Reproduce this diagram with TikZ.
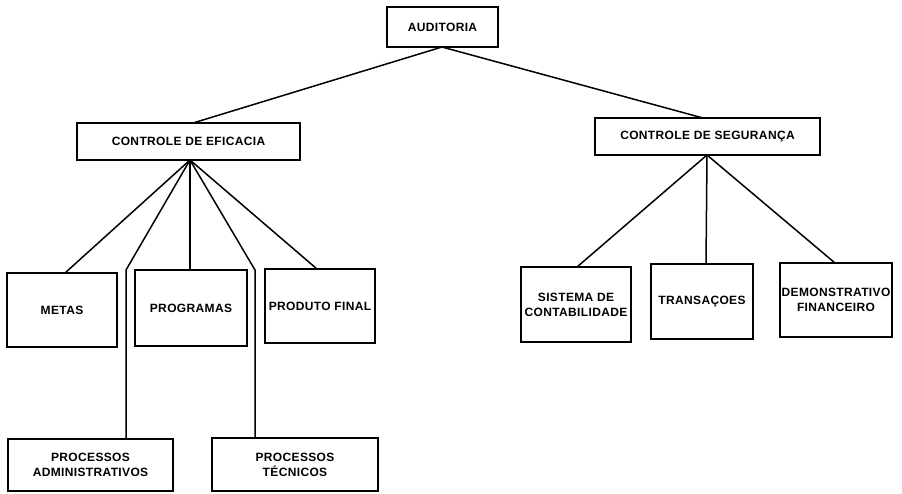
\documentclass[tikz,border=0pt]{standalone}
\usepackage{fontspec}
\setmainfont{Liberation Sans}[LetterSpace=3]
\begin{document}
\begin{tikzpicture}[x=1pt,y=-1pt,
  box/.style={draw, line width=1.5pt, inner sep=0pt, align=center,
    font=\fontsize{12}{15}\selectfont\bfseries},
  link/.style={line width=1.5pt}]
\useasboundingbox (0,0) rectangle (902,493);

% top level
\node[box, minimum width=111pt, minimum height=40pt] (aud) at (442.5,27) {AUDITORIA};

% second level
\node[box, minimum width=223pt, minimum height=37pt] (efi) at (188.5,141.5) {CONTROLE DE EFICACIA};
\node[box, minimum width=225pt, minimum height=37pt] (seg) at (707.5,136.5) {CONTROLE DE SEGURANÇA};

% efficacy branch
\node[box, minimum width=110pt, minimum height=74pt] (metas) at (62,310) {METAS};
\node[box, minimum width=112pt, minimum height=76pt] (prog) at (191,308) {PROGRAMAS};
\node[box, minimum width=110pt, minimum height=74pt] (prod) at (320,306) {PRODUTO FINAL};
\node[box, minimum width=165pt, minimum height=52pt] (padm) at (90.5,465) {PROCESSOS\\ADMINISTRATIVOS};
\node[box, minimum width=166pt, minimum height=53pt] (ptec) at (295,464.5) {PROCESSOS\\TÉCNICOS};

% security branch
\node[box, minimum width=110pt, minimum height=75pt] (sis) at (576,304.5) {SISTEMA DE\\CONTABILIDADE};
\node[box, minimum width=102pt, minimum height=75pt] (tra) at (702,301.5) {TRANSAÇOES};
\node[box, minimum width=112pt, minimum height=74pt] (dem) at (836,300) {DEMONSTRATIVO\\FINANCEIRO};

% junction points
\coordinate (audB) at (442,47);
\coordinate (efiT) at (193,123);
\coordinate (segT) at (703,118);
\coordinate (efiB) at (190,160);
\coordinate (segB) at (707,155);
\coordinate (metasT) at (65,273);
\coordinate (progT) at (190,270);
\coordinate (prodT) at (317,269);
\coordinate (admBend) at (126,270);
\coordinate (admT) at (126,439);
\coordinate (tecBend) at (255,270);
\coordinate (tecT) at (255,438);
\coordinate (sisT) at (577,267);
\coordinate (traT) at (706,264);
\coordinate (demT) at (835,263);

% connectors
\draw[link] (audB) -- (efiT);
\draw[link] (audB) -- (segT);
\draw[link] (efiB) -- (metasT);
\draw[link] (efiB) -- (progT);
\draw[link] (efiB) -- (prodT);
\draw[link] (efiB) -- (admBend) -- (admT);
\draw[link] (efiB) -- (tecBend) -- (tecT);
\draw[link] (segB) -- (sisT);
\draw[link] (segB) -- (traT);
\draw[link] (segB) -- (demT);
\end{tikzpicture}
\end{document}
